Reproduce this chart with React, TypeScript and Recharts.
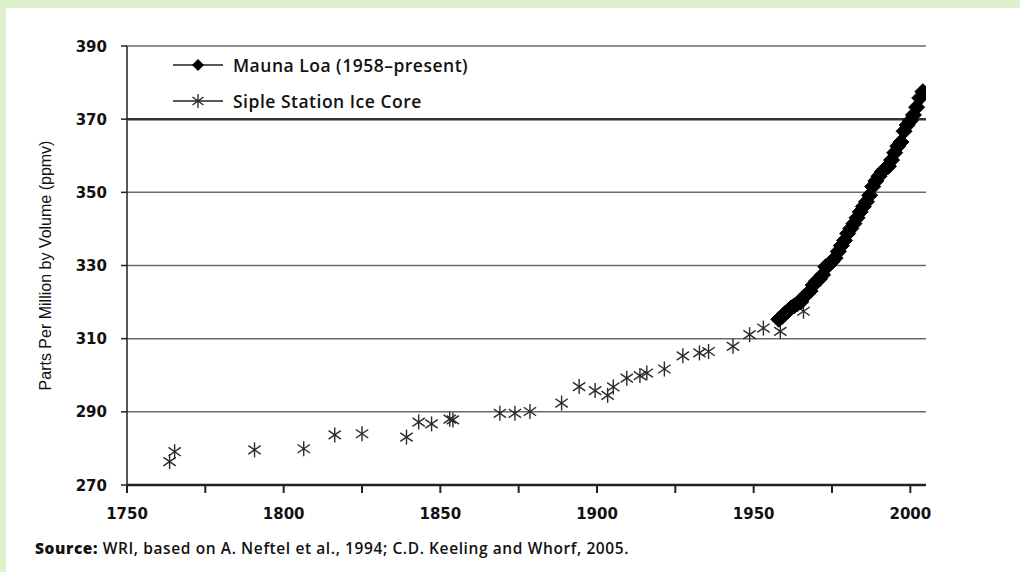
import React from 'react';
import { ScatterChart, Scatter, XAxis, YAxis, CartesianGrid, ReferenceLine, Legend, Label } from 'recharts';

const sipleYears = [1763.6, 1765.2, 1790.7, 1806.4, 1816.3, 1825.0, 1839.2, 1843.1, 1847.2, 1853.0, 1854.0, 1869.0, 1873.8, 1878.6, 1888.7, 1894.3, 1899.4, 1903.4, 1905.2, 1909.5, 1913.7, 1915.9, 1921.5, 1927.4, 1932.7, 1935.6, 1943.4, 1948.7, 1953.1, 1958.5, 1965.9];
const sipleValues = [276.4, 279.1, 279.6, 279.9, 283.7, 284.0, 283.1, 287.2, 286.7, 288.0, 287.8, 289.6, 289.6, 290.1, 292.4, 296.9, 295.8, 294.5, 296.8, 299.2, 299.9, 300.6, 301.7, 305.3, 306.1, 306.5, 307.9, 311.1, 312.9, 312.0, 317.5];

const maunaYears = [1958, 1959, 1960, 1961, 1962, 1963, 1964, 1965, 1966, 1967, 1968, 1969, 1970, 1971, 1972, 1973, 1974, 1975, 1976, 1977, 1978, 1979, 1980, 1981, 1982, 1983, 1984, 1985, 1986, 1987, 1988, 1989, 1990, 1991, 1992, 1993, 1994, 1995, 1996, 1997, 1998, 1999, 2000, 2001, 2002, 2003, 2004];
const maunaValues = [315.3, 315.97, 316.91, 317.64, 318.45, 318.99, 319.62, 320.04, 321.38, 322.16, 323.04, 324.62, 325.68, 326.32, 327.45, 329.68, 330.18, 331.11, 332.04, 333.83, 335.40, 336.84, 338.75, 340.11, 341.45, 343.05, 344.65, 346.12, 347.42, 349.19, 351.57, 353.12, 354.39, 355.61, 356.45, 357.10, 358.83, 360.82, 362.61, 363.73, 366.70, 368.38, 369.55, 371.14, 373.28, 375.80, 377.52];

const xTicks = [1750, 1775, 1800, 1825, 1850, 1875, 1900, 1925, 1950, 1975, 2000];
const yTicks = [270, 290, 310, 330, 350, 370, 390];

const seriesNames = ['Mauna Loa (1958\u2013present)', 'Siple Station Ice Core'];
const yAxisTitle = 'Parts Per Million by Volume (ppmv)';
const sourceBold = 'Source:';
const sourceText = ' WRI, based on A. Neftel et al., 1994; C.D. Keeling and Whorf, 2005.';

const sipleData = sipleYears.map((year, i) => ({ year, ppm: sipleValues[i] }));
const maunaData = maunaYears.map((year, i) => ({ year, ppm: maunaValues[i] }));

const Asterisk = (props: any) => {
  const { cx, cy } = props;
  if (cx == null || cy == null) return null;
  const r = 7.5;
  const dx = r * Math.cos(Math.PI / 5.2);
  const dy = r * Math.sin(Math.PI / 5.2);
  return (
    <g stroke="#2a2a2a" strokeWidth={1.4} fill="none">
      <line x1={cx} y1={cy - r} x2={cx} y2={cy + r} />
      <line x1={cx - dx} y1={cy - dy} x2={cx + dx} y2={cy + dy} />
      <line x1={cx - dx} y1={cy + dy} x2={cx + dx} y2={cy - dy} />
    </g>
  );
};

const Diamond = (props: any) => {
  const { cx, cy } = props;
  if (cx == null || cy == null) return null;
  const r = 8;
  return <polygon points={`${cx},${cy - r} ${cx + r},${cy} ${cx},${cy + r} ${cx - r},${cy}`} fill="#000" stroke="#000" strokeWidth={1} />;
};

const renderLegend = () => (
  <div style={{ fontFamily: '"Open Sans", sans-serif', fontWeight: 600, fontSize: 17.5, letterSpacing: 0.5, color: '#111' }}>
    <div style={{ display: 'flex', alignItems: 'center', height: 36 }}>
      <svg width={60} height={20}>
        <line x1={0} y1={10} x2={50} y2={10} stroke="#222" strokeWidth={1.5} />
        <polygon points="25,4 31,10 25,16 19,10" fill="#000" />
      </svg>
      <span>{seriesNames[0]}</span>
    </div>
    <div style={{ display: 'flex', alignItems: 'center', height: 36 }}>
      <svg width={60} height={20}>
        <line x1={0} y1={10} x2={50} y2={10} stroke="#222" strokeWidth={1.5} />
        <g stroke="#222" strokeWidth={1.3}>
          <line x1={25} y1={3} x2={25} y2={17} />
          <line x1={19.5} y1={6} x2={30.5} y2={14} />
          <line x1={19.5} y1={14} x2={30.5} y2={6} />
        </g>
      </svg>
      <span>{seriesNames[1]}</span>
    </div>
  </div>
);

const renderXTick = (props: any) => {
  const { x, y, payload } = props;
  if (payload.value % 50 !== 0) return <g />;
  return (
    <text x={x} y={y} dy={20} textAnchor="middle" fontFamily='"DejaVu Sans", sans-serif' fontWeight={700} fontSize={15} fill="#111">
      {payload.value}
    </text>
  );
};

const renderYTick = (props: any) => {
  const { x, y, payload } = props;
  return (
    <text x={x} y={y} dy={5.5} textAnchor="end" fontFamily='"DejaVu Sans", sans-serif' fontWeight={700} fontSize={15} fill="#111">
      {payload.value}
    </text>
  );
};

export default function App() {
  return (
    <div style={{ position: 'absolute', left: 0, top: 0, width: 1020, height: 572, background: '#dff0cc' }}>
      <div style={{ position: 'absolute', left: 6, top: 8, width: 1014, height: 564, background: '#fff' }} />
      <div style={{ position: 'absolute', left: 0, top: 0 }}>
        <ScatterChart width={1020} height={572} margin={{ top: 46, right: 94, bottom: 57, left: 67 }}>
          <CartesianGrid vertical={false} stroke="#6a6a6a" strokeWidth={1.5} />
          <ReferenceLine y={370} stroke="#333" strokeWidth={2.5} />
          <XAxis
            dataKey="year"
            type="number"
            domain={[1750, 2005]}
            ticks={xTicks}
            interval={0}
            allowDataOverflow
            height={30}
            tickSize={8}
            tickMargin={6}
            axisLine={{ stroke: '#222', strokeWidth: 2.5 }}
            tickLine={{ stroke: '#222', strokeWidth: 2 }}
            tick={renderXTick}
          />
          <YAxis
            dataKey="ppm"
            type="number"
            domain={[270, 390]}
            ticks={yTicks}
            interval={0}
            width={60}
            tickSize={6}
            tickMargin={14}
            axisLine={{ stroke: '#222', strokeWidth: 1.5 }}
            tickLine={{ stroke: '#222', strokeWidth: 1.5 }}
            tick={renderYTick}
          >
            <Label
              content={(p: any) => {
                const vb = p.viewBox || {};
                const cx = vb.x - 22;
                const cy = vb.y + vb.height / 2;
                return (
                  <text x={cx} y={cy} transform={`rotate(-90, ${cx}, ${cy})`} textAnchor="middle" dominantBaseline="central" fontFamily='"Liberation Sans Narrow", "Arial Narrow", sans-serif' fontSize={16} fill="#111">
                    {yAxisTitle}
                  </text>
                );
              }}
            />
          </YAxis>
          <Legend
            layout="vertical"
            align="center"
            verticalAlign="middle"
            content={renderLegend}
            wrapperStyle={{ left: 173, top: 47, width: 400 }}
          />
          <Scatter name={seriesNames[1]} data={sipleData} shape={Asterisk} isAnimationActive={false} />
          <Scatter name={seriesNames[0]} data={maunaData} shape={Diamond} isAnimationActive={false} />
        </ScatterChart>
      </div>
      <div style={{ position: 'absolute', left: 35, top: 537, fontFamily: '"Open Sans", sans-serif', fontSize: 15.5, letterSpacing: 0.6, fontWeight: 600, color: '#111', whiteSpace: 'nowrap' }}>
        <span style={{ fontWeight: 800 }}>{sourceBold}</span>
        {sourceText}
      </div>
    </div>
  );
}
